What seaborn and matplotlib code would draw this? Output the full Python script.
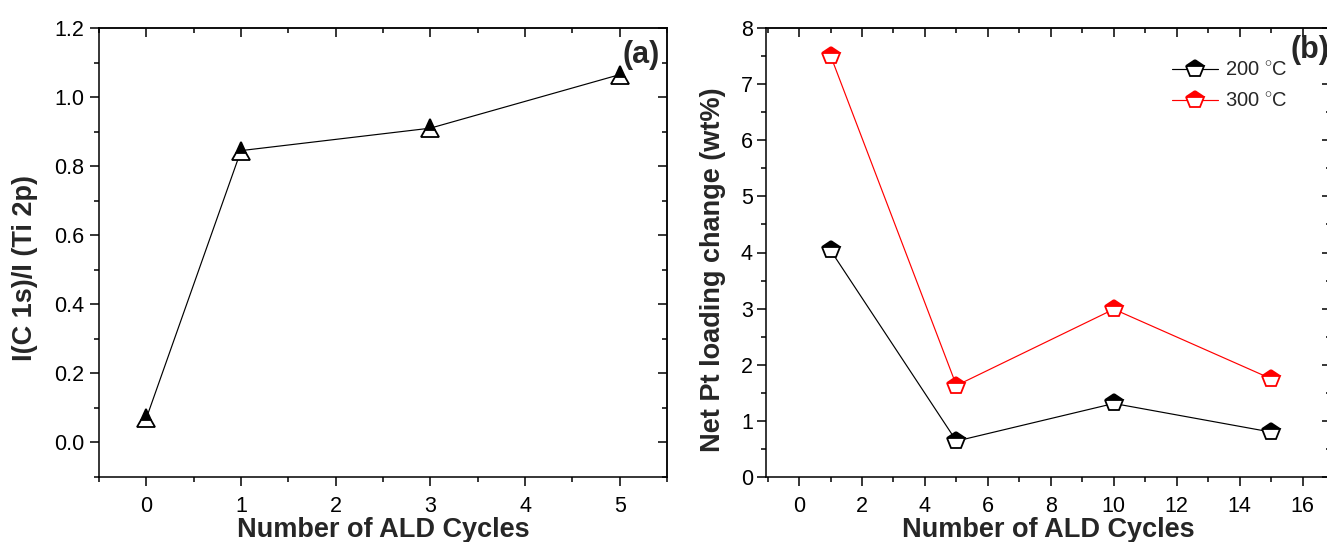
import matplotlib
matplotlib.use("Agg")
import matplotlib.pyplot as plt
from matplotlib import font_manager
from matplotlib.ticker import MultipleLocator, FormatStrFormatter
import seaborn as sns

# ---- data -------------------------------------------------------------
cycles_a = [0, 1, 3, 5]
ratio_a = [0.07, 0.845, 0.91, 1.065]

cycles_b = [1, 5, 10, 15]
loading_200 = [4.04, 0.64, 1.31, 0.80]
loading_300 = [7.51, 1.63, 2.99, 1.75]

series_labels = ["200 $^{\\circ}$C", "300 $^{\\circ}$C"]
series_colors = ["black", "red"]

xlabel = "Number of ALD Cycles"
ylabel_a = "I(C 1s)/I (Ti 2p)"
ylabel_b = "Net Pt loading change (wt%)"

# ---- style ------------------------------------------------------------
sns.set_style("ticks")
available = {f.name for f in font_manager.fontManager.ttflist}
narrow = "Liberation Sans Narrow" if "Liberation Sans Narrow" in available else "Liberation Sans"
plt.rcParams["font.family"] = ["Liberation Sans", "DejaVu Sans"]
plt.rcParams["mathtext.fontset"] = "custom"
plt.rcParams["mathtext.rm"] = "Liberation Sans"
plt.rcParams["axes.linewidth"] = 1.1

W, H = 1327, 542
fig = plt.figure(figsize=(W / 100, H / 100), dpi=100)
ax_a = fig.add_axes([99 / W, 65 / H, 568 / W, 449 / H])
ax_b = fig.add_axes([766 / W, 65 / H, 565 / W, 449 / H])

TICK_FS = 15.5
LABEL_FS = 19.5


def style_axes(ax, xmaj, xmin, ymaj, ymin):
    for s in ax.spines.values():
        s.set_visible(True)
        s.set_color("black")
        s.set_linewidth(1.1)
    ax.xaxis.set_major_locator(MultipleLocator(xmaj))
    ax.xaxis.set_minor_locator(MultipleLocator(xmin))
    ax.yaxis.set_major_locator(MultipleLocator(ymaj))
    ax.yaxis.set_minor_locator(MultipleLocator(ymin))
    ax.tick_params(which="both", direction="out", color="black", width=1.1,
                   labelsize=TICK_FS, labelcolor="black")
    ax.tick_params(which="major", length=6.5)
    ax.tick_params(which="minor", length=3.8)
    ax.grid(False)
    # mirrored ticks on top and right, pointing inward
    top = ax.secondary_xaxis("top")
    right = ax.secondary_yaxis("right")
    for axis, loc_maj, loc_min in ((top.xaxis, xmaj, xmin), (right.yaxis, ymaj, ymin)):
        axis.set_major_locator(MultipleLocator(loc_maj))
        axis.set_minor_locator(MultipleLocator(loc_min))
        axis.set_tick_params(which="both", direction="in", width=1.1, color="black")
        axis.set_tick_params(which="major", length=6.5)
        axis.set_tick_params(which="minor", length=3.8)
    top.tick_params(labeltop=False)
    right.tick_params(labelright=False)


marker_kw = dict(fillstyle="top", markerfacecoloralt="white",
                 markersize=13, markeredgewidth=1.3, linewidth=0.85)

# ---- panel (a) --------------------------------------------------------
sns.lineplot(x=cycles_a, y=ratio_a, ax=ax_a, color="black", marker="^",
             markeredgecolor="black", markerfacecolor="black", **marker_kw)
ax_a.set_xlim(-0.5, 5.5)
ax_a.set_ylim(-0.1, 1.2)
style_axes(ax_a, 1, 0.5, 0.2, 0.1)
ax_a.yaxis.set_major_formatter(FormatStrFormatter("%.1f"))
ax_a.tick_params(axis="x", pad=7)
ax_a.tick_params(axis="y", pad=4)
ax_a.set_xlabel(xlabel, fontsize=LABEL_FS, fontweight="bold", labelpad=0)
ax_a.set_ylabel(ylabel_a, fontsize=LABEL_FS, fontweight="bold")
ax_a.yaxis.set_label_coords(-0.108, 0.465)
ax_a.text(0.955, 0.94, "(a)", transform=ax_a.transAxes, ha="center", va="center",
          fontsize=22, fontweight="bold")

# ---- panel (b) --------------------------------------------------------
for values, lab, col in zip((loading_200, loading_300), series_labels, series_colors):
    sns.lineplot(x=cycles_b, y=values, ax=ax_b, color=col, marker="p", label=lab,
                 markeredgecolor=col, markerfacecolor=col, **marker_kw)
ax_b.set_xlim(-1.05, 16.9)
ax_b.set_ylim(0, 8)
style_axes(ax_b, 2, 1, 1, 0.5)
ax_b.tick_params(axis="x", pad=7)
ax_b.tick_params(axis="y", pad=3)
ax_b.set_xlabel(xlabel, fontsize=LABEL_FS, fontweight="bold", labelpad=0)
ax_b.set_ylabel(ylabel_b, fontsize=LABEL_FS, fontweight="bold")
ax_b.yaxis.set_label_coords(-0.07, 0.461)
ax_b.text(0.962, 0.951, "(b)", transform=ax_b.transAxes, ha="center", va="center",
          fontsize=22, fontweight="bold")
leg = ax_b.legend(loc="upper left", bbox_to_anchor=(0.7186, 0.9265), frameon=False,
                  prop={"family": narrow, "size": 15.5 if narrow.endswith("Narrow") else 14.5},
                  handlelength=2.3, handletextpad=0.35, borderpad=0, borderaxespad=0,
                  labelspacing=0.58)

fig.savefig("out.png", dpi=100)
